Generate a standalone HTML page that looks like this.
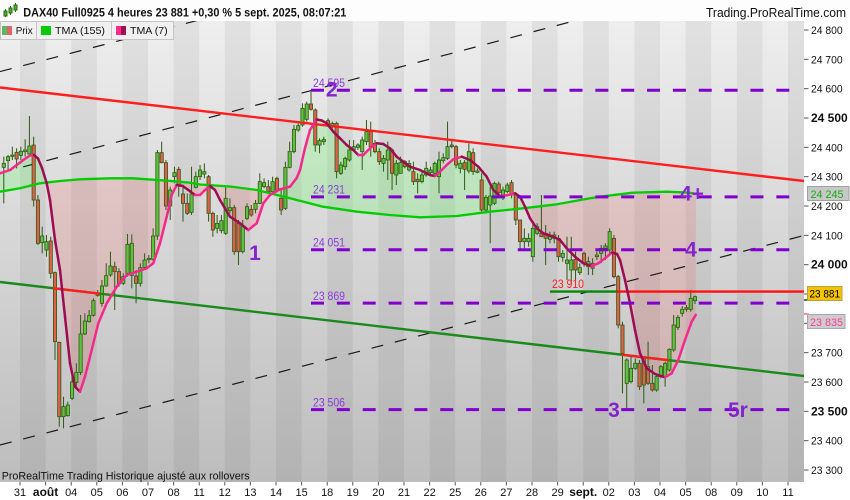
<!DOCTYPE html>
<html><head><meta charset="utf-8">
<style>
html,body{margin:0;padding:0;background:#fff;width:850px;height:500px;overflow:hidden;}
svg{display:block;font-family:"Liberation Sans",Arial,sans-serif;}
</style></head>
<body>
<svg id="c" width="850" height="500" viewBox="0 0 850 500" xmlns="http://www.w3.org/2000/svg">
<defs>
<linearGradient id="bg" x1="0" y1="0" x2="0" y2="1">
<stop offset="0" stop-color="#eeeeee"/><stop offset="1" stop-color="#bdbdbd"/>
</linearGradient>
<clipPath id="plot"><rect x="0" y="21" width="804" height="461"/></clipPath>
<clipPath id="cabove"><polygon id="pa" points="0,0"/></clipPath>
<clipPath id="cbelow"><polygon id="pb" points="0,0"/></clipPath>
</defs>
<rect width="850" height="500" fill="#fff"/>
<rect x="0" y="21" width="804" height="461" fill="url(#bg)"/>
<g id="stripes" fill="#000" fill-opacity="0.055"></g>
<g clip-path="url(#plot)">
  <g id="fills"></g>
  <g stroke="#1a1a1a" stroke-width="1.2" stroke-dasharray="12 12" fill="none">
    <line x1="0" y1="71.6" x2="280" y2="-1"/>
    <line x1="0" y1="173" x2="653" y2="0"/>
    <line x1="0" y1="445" x2="804" y2="235.5"/>
  </g>
  <g id="candles"></g>
  <line x1="0" y1="87.5" x2="804" y2="181" stroke="#ff1e1e" stroke-width="2.4"/>
  <line x1="0" y1="282" x2="804" y2="376" stroke="#1a8a1a" stroke-width="2.4"/>
  <line x1="53" y1="288.2" x2="100" y2="293.7" stroke="#ff1e1e" stroke-width="2.4"/>
  <line x1="621.7" y1="354.7" x2="669" y2="360.3" stroke="#ff1e1e" stroke-width="2.4"/>
  <line x1="550" y1="291.6" x2="617" y2="291.6" stroke="#0a860a" stroke-width="2.4"/>
  <line x1="617" y1="291.6" x2="804" y2="291.6" stroke="#ff1010" stroke-width="2.4"/>
  <g id="tmas"></g>
  <g stroke="#8000cc" stroke-width="3" stroke-dasharray="13 12.85" fill="none">
    <line x1="311" y1="90.3" x2="792" y2="90.3"/>
    <line x1="311" y1="196.9" x2="792" y2="196.9"/>
    <line x1="311" y1="249.7" x2="792" y2="249.7"/>
    <line x1="311" y1="303.1" x2="792" y2="303.1"/>
    <line x1="311" y1="409.6" x2="792" y2="409.6"/>
  </g>
  <g font-size="12" fill="#8c3cdc">
    <text x="313" y="87" textLength="32" lengthAdjust="spacingAndGlyphs">24 595</text>
    <text x="313" y="193.3" textLength="32" lengthAdjust="spacingAndGlyphs">24 231</text>
    <text x="313" y="246.7" textLength="32" lengthAdjust="spacingAndGlyphs">24 051</text>
    <text x="313" y="300" textLength="32" lengthAdjust="spacingAndGlyphs">23 869</text>
    <text x="313" y="406.3" textLength="32" lengthAdjust="spacingAndGlyphs">23 506</text>
  </g>
  <text x="552" y="288" font-size="12" fill="#ff2020" textLength="32" lengthAdjust="spacingAndGlyphs">23 910</text>
  <g font-size="21" font-weight="bold" fill="#8424cc">
    <text x="331.7" y="96.5" text-anchor="middle">2</text>
    <text x="255" y="260" text-anchor="middle">1</text>
    <text x="680" y="200.5">4+</text>
    <text x="691" y="256.5" text-anchor="middle">4</text>
    <text x="614" y="417" text-anchor="middle">3</text>
    <text x="728" y="417">5r</text>
  </g>
  <text x="1.7" y="479.3" font-size="11" fill="#111" textLength="248" lengthAdjust="spacingAndGlyphs">ProRealTime Trading  Historique ajusté aux rollovers</text>
</g>
<!-- header -->
<rect x="0" y="0" width="850" height="20.5" fill="#fdfdfd"/>
<g stroke="#2d6a10" stroke-width="1">
  <line x1="5.5" y1="9" x2="5.5" y2="17"/><rect x="4" y="11" width="3" height="5" fill="#4caf2a"/>
  <line x1="10.5" y1="6" x2="10.5" y2="15"/><rect x="9" y="8" width="3" height="5" fill="#4caf2a"/>
  <line x1="15.5" y1="3" x2="15.5" y2="12"/><rect x="14" y="5" width="3" height="5" fill="#4caf2a"/>
</g>
<text x="23.3" y="16.6" font-size="11.5" font-weight="bold" fill="#111" textLength="323" lengthAdjust="spacingAndGlyphs">DAX40 Full0925 4 heures 23 881 +0,30 % 5 sept. 2025, 08:07:21</text>
<text x="706" y="17" font-size="12.5" fill="#111" textLength="140" lengthAdjust="spacingAndGlyphs">Trading.ProRealTime.com</text>
<!-- legend -->
<g stroke="#c4c4c4" fill="#f0f0f0">
  <rect x="0.5" y="21.5" width="36" height="18"/>
  <rect x="36.5" y="21.5" width="75" height="18"/>
  <rect x="111.5" y="21.5" width="62" height="18"/>
</g>
<rect x="2" y="26" width="5" height="9" fill="#5cb85c"/><rect x="7" y="26" width="5" height="9" fill="#e06666"/>
<rect x="41" y="26" width="10" height="9" fill="#00cc00"/>
<rect x="116" y="26" width="5" height="9" fill="#ff2a8a"/><rect x="121" y="26" width="5" height="9" fill="#a0104f"/>
<g font-size="10.5" fill="#111">
  <text x="15.7" y="34" textLength="17" lengthAdjust="spacingAndGlyphs">Prix</text>
  <text x="55" y="34" textLength="50" lengthAdjust="spacingAndGlyphs">TMA (155)</text>
  <text x="130" y="34" textLength="37.7" lengthAdjust="spacingAndGlyphs">TMA (7)</text>
</g>
<!-- right axis -->
<g id="yaxis" font-size="11" fill="#111"></g>
<line x1="804" y1="300" x2="808.5" y2="300" stroke="#000" stroke-width="1.2"/>
<line x1="804" y1="314" x2="808.5" y2="314" stroke="#ff3399" stroke-width="1.2"/>
<rect x="807.5" y="186.5" width="41.5" height="14" fill="#c8c8c8" stroke="#a0a0a0"/>
<text x="810.5" y="197.8" font-size="11" fill="#10b010" textLength="33" lengthAdjust="spacingAndGlyphs">24 245</text>
<rect x="807.5" y="286.5" width="34.5" height="14" fill="#f3c300" stroke="#b8a040"/>
<text x="809.5" y="297.6" font-size="11" fill="#000" textLength="30.5" lengthAdjust="spacingAndGlyphs">23 881</text>
<rect x="807.5" y="314.5" width="37.5" height="14" fill="#cdcdcd" stroke="#a8a8a8"/>
<text x="810" y="325.8" font-size="11" fill="#ff3d9a" textLength="33" lengthAdjust="spacingAndGlyphs">23 835</text>
<!-- bottom axis -->
<g id="xaxis" font-size="11" fill="#111" text-anchor="middle"></g>
</svg>
<script>
(function(){
var NS="http://www.w3.org/2000/svg";
function mk(tag,a,p){var e=document.createElementNS(NS,tag);for(var k in a)e.setAttribute(k,a[k]);if(p)p.appendChild(e);return e;}
function parse(s){return s.trim().split(/\s+/).map(function(p){var q=p.split(',');return [parseFloat(q[0]),parseFloat(q[1])];});}
function str(a){return a.map(function(p){return p[0]+','+p[1];}).join(' ');}
var sg=document.getElementById('stripes');
for(var k=0;k<=30;k+=2){var x=20+25.6*k;mk('rect',{x:x,y:21,width:Math.min(25.6,804-x),height:461},sg);}
var T7=parse("0,173.3 10,170 16.7,165 23.3,160 30,155.5 34,155 38,158.5 42,168 46.7,183.3 50,200 55,240 60,270 65,316.7 70,363.3 75,386.7 80,391.7 85,376.7 91.7,350 98.3,323.3 106.7,303.3 116.7,286.7 126.7,275 136.7,271.7 146.7,268.3 153.3,263.3 160,243.3 166.7,216.7 171.7,195 176.7,185 182.7,186 188.3,190 195,195 200,195 205,190 210,186 215,190 220,200 230,216.7 240,223.3 248.3,230 256.7,223.3 263.3,203.3 270,195 280,189.3 290,186.7 296.7,178 300,170 305,148 310,130 316.7,119.5 321.7,120.5 326.7,123.3 333.3,131.7 340,138.3 346.7,145 353.3,150 358.3,155 363.3,155 370,148.3 376.7,143.3 383.3,144 390,148.3 396.7,156.7 403.3,161.7 410,166.7 420,170 430,175 435,176 440,171.7 446.7,165 453.3,159.3 461.7,156.7 470,160 478.3,166.7 486.7,176.7 493.3,190 500,196 506.7,195.3 515,193.3 520,196.7 525,206.7 530,218.3 536.7,228.3 543.3,233.3 553.3,236.7 560,240 566.7,248.3 575,256.7 583.3,263.3 591.7,266 598.3,263.3 605,258.3 612,252.5 617,254 620,260 625,280 630,303.3 635,330 640,353.3 646.7,368.3 655,374 665,377.3 671.7,373.3 678.3,360 685,340 691.7,321.7 695.7,315");
var T155=parse("0,191.7 20,188.3 40,183.3 60,181 80,179.3 110,178.3 133,178.3 167,180.7 190,182.7 200,184.5 230,186.5 257,190 290,198.3 323,206.7 357,211.7 390,215 420,217.3 457,216 490,211.7 523,208.3 557,204.3 590,198.3 600,196.7 633,192.7 667,191.7 690,192.7 696,194");
document.getElementById('pa').setAttribute('points',str(T155)+' 696,0 0,0');
document.getElementById('pb').setAttribute('points',str(T155)+' 696,500 0,500');
var rev=T155.slice().reverse();
var d='M'+str(T7).replace(/ /g,' L')+' L'+str(rev).replace(/ /g,' L')+' Z';
var fg=document.getElementById('fills');
mk('path',{d:d,fill:'rgb(100,255,100)','fill-opacity':'0.25','clip-path':'url(#cabove)'},fg);
mk('path',{d:d,fill:'rgb(255,70,70)','fill-opacity':'0.15','clip-path':'url(#cbelow)'},fg);
var groups=[
[110,"0 g 160 172 140 280;1 g 140 152 135 180;2 g 135 139 110 150;3 r 127 147 115 175;4 g 124 136 110 150;5 g 120 125 88 140;6 g 108 132 18 138;7 r 105 270 80 290"],
[130,"8 r 210 340 195 345;9 g 318 338 290 370;10 g 335 360 315 380;11 r 333 430 320 445;12 r 428 635 425 690;13 r 637 860 635 890;14 g 830 860 800 895;15 g 825 857 815 860;16 g 756 805 740 810;17 g 727 757 700 770;18 g 612 727 555 735;19 g 573 612 550 615;20 g 557 575 540 578;21 g 512 556 505 560;22 g 492 496 480 500;23 g 468 520 450 530;24 g 437 468 400 470;25 g 408 435 365 440;26 r 410 425 395 540;27 r 425 462 415 470;28 g 440 460 430 465;29 g 343 430 312 440;30 g 340 436 313 475;31 r 438 460 420 520;32 g 413 460 400 470;33 g 390 412 370 420;34 g 385 389 375 400;35 g 318 388 295 395;36 g 68 318 60 330;37 r 68 98 35 100;38 r 98 228 90 240;39 g 180 228 170 270;40 g 128 140 110 160;41 r 118 167 110 200;42 r 192 220 170 275;43 r 220 250 190 255;44 g 192 247 110 255;45 g 140 172 125 175"],
[80,"46 g 270 290 255 300;47 g 275 282 250 295;48 r 290 400 285 425;49 r 400 450 395 470;50 g 430 445 405 460;51 g 422 452 405 460;52 g 355 460 320 465;53 g 383 392 355 400;54 r 383 515 375 525;55 r 430 515 420 555;56 g 440 515 420 520;57 g 380 415 370 420;58 r 388 405 375 410;59 g 370 388 360 400;60 g 305 370 280 372;61 g 308 320 295 325;62 r 320 335 300 340;63 g 305 335 290 345;64 r 295 330 290 335;65 r 355 390 330 405;66 g 262 385 245 390;67 g 215 262 185 265;68 g 148 215 135 220;69 g 137 150 130 155"],
[90,"70 g 55 105 40 110;71 g 42 88 35 95;72 r 42 58 5 62;73 r 60 165 55 185;74 g 152 165 145 190;75 g 148 155 140 165;76 r 92 105 85 110;77 g 100 110 95 115;78 r 100 245 95 265;79 g 225 250 215 255;80 g 205 230 200 240;81 g 180 210 150 215;82 g 170 178 150 185;83 g 165 172 160 180;84 g 150 185 140 240;85 g 125 155 90 165;86 r 125 170 95 200;87 r 160 185 150 190;88 r 185 215 175 225;89 g 205 220 195 245;90 g 180 210 155 270;91 r 180 250 175 300;92 g 220 255 210 285;93 g 218 250 200 250;94 r 215 230 210 235;95 g 220 240 210 245"],
[110,"96 r 185 215 155 225;97 r 208 215 190 250;98 g 195 215 180 220;99 g 175 195 155 200;100 g 180 188 170 195;101 g 160 190 155 200;102 g 150 200 125 250;103 g 143 152 130 160;104 g 110 145 35 150;105 r 105 110 90 115;106 r 110 165 105 175;107 g 160 175 150 190;108 r 158 178 150 240;109 g 125 183 100 190;110 r 128 185 115 195;111 g 183 187 175 190;112 r 210 300 190 305;113 g 262 300 255 310;114 g 258 285 230 400;115 g 220 280 215 285;116 r 222 248 215 250;117 g 240 255 230 270;118 g 225 245 218 250;119 r 218 255 210 265;120 r 255 330 250 345;121 r 330 395 330 420;122 g 385 395 355 415;123 g 385 395 370 410;124 g 355 440 340 455;125 g 350 370 340 375;126 r 370 380 255 380;127 r 370 385 345 465;128 g 380 388 365 400;129 g 375 385 365 400;130 r 385 440 375 455;131 g 430 442 420 455;132 g 450 460 380 510;133 g 450 480 380 520;134 r 448 480 425 510;135 g 473 488 460 495;136 r 430 460 425 470;137 g 455 470 440 495;138 r 460 475 445 495;139 g 435 440 425 450;140 g 415 430 405 460;141 g 408 415 400 450;142 g 365 420 355 430"],
[250,"143 r -35 80 -45 85;144 r 80 225 75 235;145 r 225 310 215 430;146 g 330 400 325 475;147 g 355 395 320 400;148 g 340 355 325 360;149 r 340 410 330 420;150 r 325 405 320 460;151 r 350 400 275 405;152 r 400 420 345 425;153 g 380 420 375 425;154 g 350 380 345 385;155 g 340 380 335 410;156 g 298 360 295 365;157 g 225 300 195 305;158 g 202 232 195 240;159 g 178 190 168 200;160 r 173 178 165 185;161 g 145 178 120 185;162 g 140 152 137 162"]
];
var cg=document.getElementById('candles');
groups.forEach(function(g){
  var y0=g[0];
  g[1].split(';').forEach(function(s){
    var a=s.trim().split(/\s+/);var n=+a[0];var col=a[1];
    var bt=y0+a[2]/3,bb=y0+a[3]/3,wt=y0+a[4]/3,wb=y0+a[5]/3;
    var x=3.8+4.2667*n;
    mk('line',{x1:x,y1:wt,x2:x,y2:wb,stroke:'#2d5a14','stroke-width':1},cg);
    mk('rect',{x:x-1.6,y:bt,width:3.2,height:Math.max(1,bb-bt),fill:col=='g'?'#5fc23e':'#e0604c',stroke:'#2d5a14','stroke-width':0.8},cg);
  });
});
var tg=document.getElementById('tmas');
mk('polyline',{points:str(T155),fill:'none',stroke:'#00cc00','stroke-width':2.3,'stroke-linejoin':'round'},tg);
for(var i=0;i<T7.length-1;i++){
  var p=T7[i],q=T7[i+1];
  mk('line',{x1:p[0],y1:p[1],x2:q[0],y2:q[1],stroke:(q[1]>p[1]?'#9c0c52':'#f5288c'),'stroke-width':2.5,'stroke-linecap':'round'},tg);
}
var ya=document.getElementById('yaxis');
for(var v=24800;v>=23300;v-=100){
  var y=30+(24800-v)*0.293333;
  mk('line',{x1:804,y1:y,x2:808.5,y2:y,stroke:'#555','stroke-width':1},ya);
  var s=String(v);var lab=s.slice(0,2)+' '+s.slice(2);
  var bold=(v%500==0);
  var t=mk('text',{x:811,y:y+4,'font-size':bold?12:11,'font-weight':bold?'bold':'normal',textLength:bold?36.7:31.7,lengthAdjust:'spacingAndGlyphs'},ya);
  t.textContent=lab;
}
var xa=document.getElementById('xaxis');
var labs=["31","août","04","05","06","07","08","11","12","13","14","15","18","19","20","21","22","25","26","27","28","29","sept.","02","03","04","05","08","09","10","11"];
for(var k2=0;k2<labs.length;k2++){
  var bx=20+25.6*k2;
  mk('line',{x1:bx,y1:482,x2:bx,y2:485.5,stroke:'#555','stroke-width':1},xa);
  var b=(labs[k2]=="août"||labs[k2]=="sept.");
  var tt=mk('text',{x:bx,y:496,'font-size':b?12:11,'font-weight':b?'bold':'normal'},xa);
  tt.textContent=labs[k2];
}
})();
</script>
</body></html>
